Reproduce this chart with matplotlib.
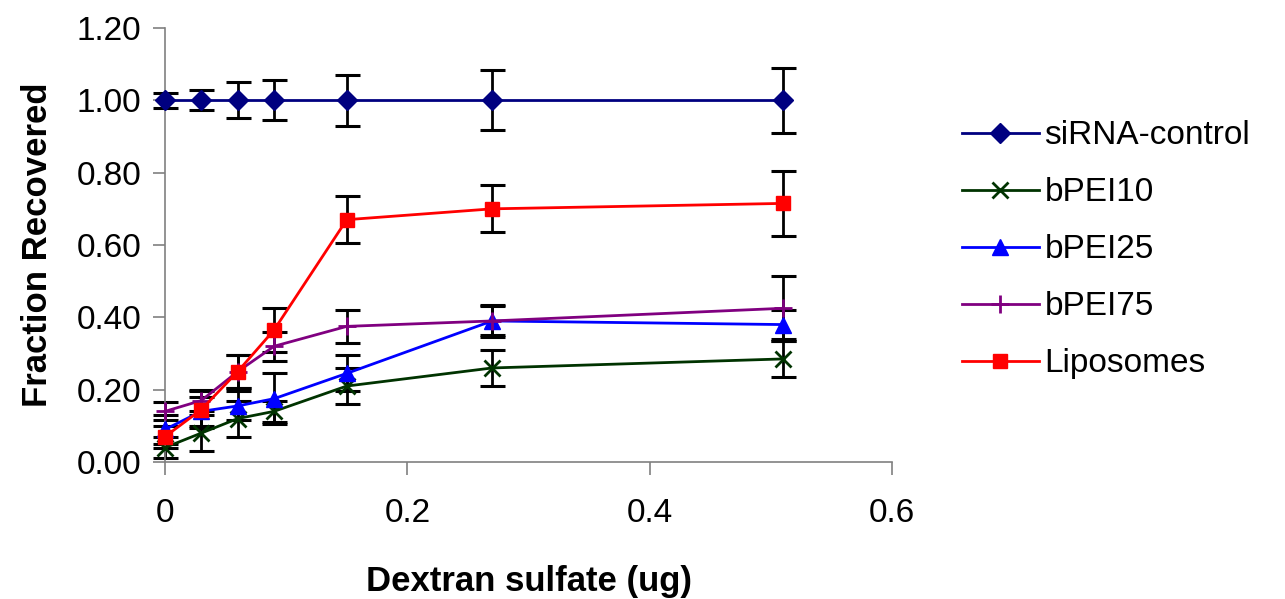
import numpy as np
import matplotlib
matplotlib.use("Agg")
import matplotlib.pyplot as plt

plt.rcParams['font.family'] = ['Liberation Sans', 'DejaVu Sans']

# Dextran sulfate amounts (ug)
dextran = [0, 0.03, 0.06, 0.09, 0.15, 0.27, 0.51]

# Fraction recovered and error per series
sirna = [1.00, 1.00, 1.00, 1.00, 1.00, 1.00, 1.00]
sirna_err = [0.02, 0.028, 0.05, 0.055, 0.07, 0.083, 0.09]

bpei10 = [0.04, 0.08, 0.12, 0.14, 0.21, 0.26, 0.285]
bpei10_err = [0.03, 0.05, 0.05, 0.03, 0.05, 0.05, 0.05]

bpei25 = [0.09, 0.14, 0.155, 0.175, 0.245, 0.39, 0.38]
bpei25_err = [0.04, 0.04, 0.04, 0.07, 0.05, 0.045, 0.04]

bpei75 = [0.14, 0.17, 0.25, 0.32, 0.375, 0.39, 0.425]
bpei75_err = [0.025, 0.03, 0.045, 0.04, 0.045, 0.04, 0.09]

lipo = [0.07, 0.145, 0.25, 0.365, 0.67, 0.70, 0.715]
lipo_err = [0.03, 0.05, 0.045, 0.06, 0.065, 0.065, 0.09]

series = [
    ('siRNA-control', sirna, sirna_err, '#000080', 'D', 10),
    ('bPEI10', bpei10, bpei10_err, '#003300', 'x', 11),
    ('bPEI25', bpei25, bpei25_err, '#0000FF', '^', 12),
    ('bPEI75', bpei75, bpei75_err, '#800080', '+', 13),
    ('Liposomes', lipo, lipo_err, '#FF0000', 's', 10),
]

fig = plt.figure(figsize=(12.85, 5.99), dpi=100)
ax = fig.add_axes([165 / 1285, 1 - 462 / 599, (892 - 165) / 1285, (462 - 28) / 599])

# error bars first, then lines with markers on top
for name, y, err, col, mk, ms in series:
    ax.errorbar(dextran, y, yerr=err, fmt='none', ecolor='black',
                elinewidth=2, capsize=9, capthick=2.2, zorder=2)
for name, y, err, col, mk, ms in series:
    ax.plot(dextran, y, color=col, marker=mk, markersize=ms, linewidth=2,
            markeredgewidth=2 if mk in ('x', '+') else 1,
            markeredgecolor=col, markerfacecolor=col, label=name, zorder=3)

ax.set_xlim(0, 0.6)
ax.set_ylim(0, 1.2)
ax.set_xticks([0, 0.2, 0.4, 0.6])
ax.set_xticklabels(['0', '0.2', '0.4', '0.6'])
ax.set_yticks(np.arange(0, 1.21, 0.2))
ax.set_yticklabels([f'{v:.2f}' for v in np.arange(0, 1.21, 0.2)])
ax.tick_params(axis='both', labelsize=24, length=9, width=1.2, color='#808080',
               direction='out')
ax.tick_params(axis='x', pad=17)
ax.tick_params(axis='y', pad=8)
for s in ['top', 'right']:
    ax.spines[s].set_visible(False)
for s in ['left', 'bottom']:
    ax.spines[s].set_color('#808080')
    ax.spines[s].set_linewidth(1.2)
for artist in ax.get_children():
    try:
        artist.set_clip_on(False)
    except Exception:
        pass

ax.set_xlabel('Dextran sulfate (ug)', fontsize=25, fontweight='bold', labelpad=26)
ax.set_ylabel('Fraction Recovered', fontsize=25, fontweight='bold', labelpad=16)

leg = ax.legend(loc='center left', bbox_to_anchor=(1.078, 0.489), frameon=False,
                fontsize=24, handlelength=2.3, labelspacing=0.78, handletextpad=0.17,
                borderaxespad=0)

fig.savefig('out.png', dpi=100)
